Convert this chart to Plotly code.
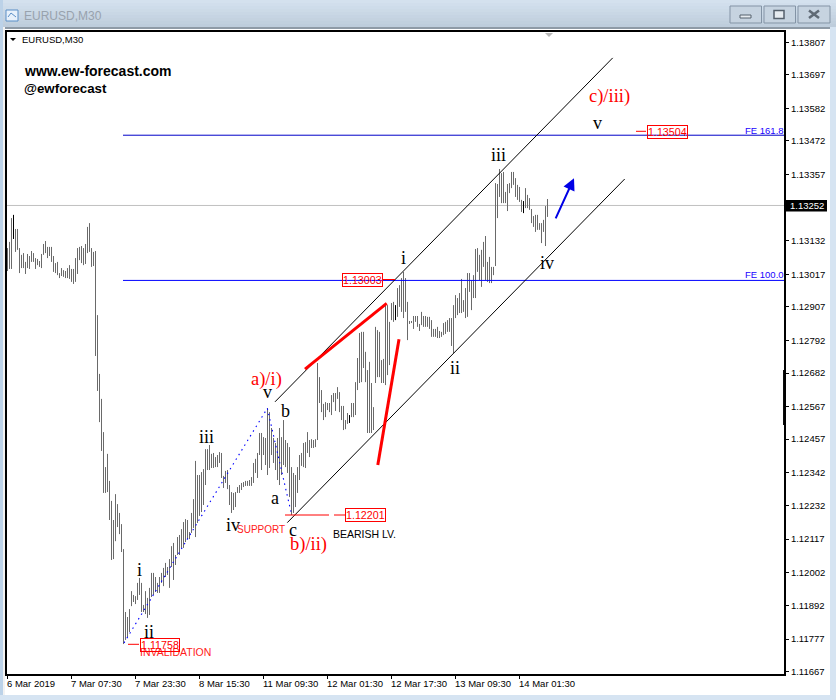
import plotly.graph_objects as go

highs = [
1.13107,1.13128,1.13209,1.13220,1.13172,1.13172,1.13107,1.13084,1.13090,1.13060,1.13087,1.13080,1.13097,1.13090,1.13073,1.13070,1.13063,1.13087,1.13121,1.13131,
1.13111,1.13111,1.13111,1.13080,1.13056,1.13060,1.13022,1.13039,1.13032,1.13029,1.13039,1.13049,1.13036,1.13036,1.13073,1.13107,1.13111,1.13114,1.13107,1.13121,
1.13179,1.13192,1.13107,1.13094,1.13097,1.12879,1.12679,1.12594,1.12481,1.12362,1.12407,1.12315,1.12247,1.12182,1.12270,1.12236,1.12206,1.12168,1.12083,1.11869,
1.11852,1.11879,1.11940,1.11927,1.11923,1.11968,1.11985,1.11968,1.11893,1.11940,1.11917,1.11951,1.12002,1.12002,1.11988,1.11968,1.11988,1.12002,1.12019,1.12036,
1.12022,1.12049,1.12093,1.12104,1.12063,1.12124,1.12131,1.12151,1.12175,1.12185,1.12182,1.12141,1.12206,1.12253,1.12383,1.12335,1.12335,1.12345,1.12355,1.12423,
1.12423,1.12437,1.12407,1.12410,1.12396,1.12403,1.12413,1.12410,1.12332,1.12349,1.12352,1.12301,1.12277,1.12274,1.12277,1.12294,1.12301,1.12308,1.12311,1.12315,
1.12315,1.12318,1.12328,1.12376,1.12390,1.12410,1.12478,1.12478,1.12464,1.12461,1.12563,1.12549,1.12495,1.12461,1.12444,1.12461,1.12495,1.12464,1.12522,1.12454,
1.12444,1.12430,1.12362,1.12342,1.12335,1.12362,1.12403,1.12410,1.12444,1.12447,1.12481,1.12454,1.12457,1.12454,1.12457,1.12716,1.12668,1.12624,1.12577,1.12583,
1.12580,1.12580,1.12607,1.12614,1.12614,1.12634,1.12617,1.12570,1.12570,1.12522,1.12546,1.12539,1.12580,1.12580,1.12651,1.12733,1.12818,1.12822,1.12822,1.12754,
1.12692,1.12720,1.12648,1.12566,1.12839,1.12828,1.12822,1.12726,1.12730,1.12920,1.12913,1.12856,1.12920,1.12924,1.12913,1.12971,1.12981,1.13005,1.13026,1.13005,
1.12924,1.12859,1.12859,1.12876,1.12876,1.12876,1.12849,1.12890,1.12876,1.12876,1.12873,1.12873,1.12862,1.12832,1.12832,1.12839,1.12825,1.12822,1.12852,1.12856,
1.12862,1.12869,1.12869,1.12913,1.12947,1.12937,1.12954,1.13002,1.12930,1.12971,1.13022,1.13022,1.12998,1.13015,1.13104,1.13107,1.13084,1.13101,1.13128,1.13148,
1.13060,1.13077,1.13043,1.13043,1.13328,1.13325,1.13376,1.13362,1.13366,1.13298,1.13325,1.13328,1.13366,1.13366,1.13345,1.13322,1.13315,1.13271,1.13267,1.13311,
1.13288,1.13277,1.13240,1.13216,1.13220,1.13220,1.13192,1.13192,1.13203,1.13250,1.13274,
]
lows = [
1.13029,1.13036,1.13036,1.13138,1.13094,1.13101,1.13022,1.13039,1.13039,1.13019,1.13039,1.13036,1.13060,1.13060,1.13036,1.13049,1.13043,1.13039,1.13084,1.13090,
1.13073,1.13080,1.13060,1.13026,1.13022,1.13015,1.13005,1.13012,1.13009,1.13005,1.13005,1.13002,1.12992,1.12985,1.12992,1.13019,1.13066,1.13056,1.13049,1.13053,
1.13090,1.13094,1.13043,1.13046,1.12740,1.12621,1.12515,1.12417,1.12274,1.12274,1.12277,1.12182,1.12046,1.12049,1.12110,1.12158,1.12134,1.12073,1.11760,1.11774,
1.11784,1.11801,1.11889,1.11903,1.11896,1.11910,1.11927,1.11869,1.11869,1.11862,1.11849,1.11859,1.11920,1.11927,1.11937,1.11934,1.11934,1.11968,1.11957,1.11988,
1.11995,1.11951,1.12022,1.11978,1.12029,1.12063,1.12063,1.12087,1.12087,1.12107,1.12117,1.12117,1.12138,1.12155,1.12124,1.12172,1.12196,1.12209,1.12233,1.12301,
1.12352,1.12352,1.12359,1.12359,1.12362,1.12362,1.12376,1.12325,1.12291,1.12308,1.12287,1.12233,1.12206,1.12216,1.12226,1.12274,1.12274,1.12284,1.12294,1.12298,
1.12298,1.12298,1.12298,1.12308,1.12342,1.12325,1.12403,1.12352,1.12403,1.12369,1.12335,1.12359,1.12403,1.12376,1.12352,1.12318,1.12301,1.12335,1.12369,1.12362,
1.12342,1.12260,1.12199,1.12206,1.12226,1.12274,1.12318,1.12366,1.12362,1.12359,1.12410,1.12396,1.12427,1.12427,1.12430,1.12454,1.12580,1.12549,1.12522,1.12532,
1.12556,1.12549,1.12539,1.12583,1.12553,1.12594,1.12549,1.12522,1.12488,1.12491,1.12509,1.12512,1.12532,1.12532,1.12539,1.12624,1.12648,1.12651,1.12699,1.12651,
1.12478,1.12478,1.12478,1.12488,1.12648,1.12668,1.12668,1.12648,1.12648,1.12641,1.12675,1.12709,1.12862,1.12856,1.12862,1.12873,1.12907,1.12890,1.12869,1.12890,
1.12794,1.12849,1.12852,1.12832,1.12856,1.12839,1.12825,1.12845,1.12839,1.12839,1.12839,1.12832,1.12805,1.12805,1.12805,1.12801,1.12801,1.12805,1.12811,1.12815,
1.12822,1.12822,1.12774,1.12750,1.12869,1.12879,1.12886,1.12886,1.12890,1.12869,1.12873,1.12958,1.12896,1.12937,1.12937,1.13026,1.12998,1.12975,1.13043,1.12998,
1.12992,1.12988,1.12988,1.13015,1.13046,1.13209,1.13281,1.13260,1.13260,1.13260,1.13233,1.13294,1.13311,1.13322,1.13281,1.13271,1.13264,1.13230,1.13226,1.13243,
1.13243,1.13237,1.13192,1.13179,1.13162,1.13169,1.13169,1.13124,1.13162,1.13114,1.13213,
]
black_bars = [3, 171, 194, 258]

price_ticks = [1.13807,1.13697,1.13582,1.13472,1.13357,1.13132,1.13017,1.12907,1.12792,1.12682,
               1.12567,1.12457,1.12342,1.12232,1.12117,1.12002,1.11892,1.11777,1.11667]
time_tick_bars = [0,32,64,96,128,160,192,224,256]
time_tick_labels = ["6 Mar 2019","7 Mar 07:30","7 Mar 23:30","8 Mar 15:30","11 Mar 09:30",
                    "12 Mar 01:30","12 Mar 17:30","13 Mar 09:30","14 Mar 01:30"]
last_price = 1.13252
fe100 = 1.12997
fe1618 = 1.13491
fe_start_bar = 57.75
axis_end_bar = 388.25
channel_upper_x = [133.75, 302.6]
channel_upper_y = [1.12584, 1.13754]
channel_lower_x = [139.9, 308.6]
channel_lower_y = [1.12173, 1.13342]
wave_x = [58.25, 129.9, 142.1]
wave_y = [1.11764, 1.12562, 1.12199]
red_top_x = [148.75, 189.6]
red_top_y = [1.12695, 1.12919]
red_bottom_x = [185.15, 195.75]
red_bottom_y = [1.12369, 1.12797]
arrow_x = [273.75, 283.25]
arrow_y = [1.13203, 1.13345]

L, R, T, B = 7, 784, 32, 674
X = lambda px: (px - L) / (R - L)
Y = lambda py: (B - py) / (B - T)
SANS = "Liberation Sans"
SERIF = "Liberation Serif"

def bars_xy(indices):
    xs, ys = [], []
    for i in indices:
        xs += [i, i, None]
        ys += [highs[i], lows[i], None]
    return xs, ys

fig = go.Figure()
def line(x, y, color, width, dash="solid"):
    fig.add_trace(go.Scatter(x=x, y=y, mode="lines", line=dict(color=color, width=width, dash=dash), hoverinfo="skip"))

line([-0.25, axis_end_bar], [last_price, last_price], "#c0c0c0", 1)
grey_idx = [i for i in range(len(highs)) if i not in black_bars]
gx, gy = bars_xy(grey_idx)
line(gx, gy, "#6a6a6a", 1)
bx, by = bars_xy(black_bars)
line(bx, by, "#000000", 1)
line([fe_start_bar, axis_end_bar], [fe1618, fe1618], "#0000c8", 1)
line([fe_start_bar, axis_end_bar], [fe100, fe100], "#0000ff", 1)
line(channel_upper_x, channel_upper_y, "#000000", 1)
line(channel_lower_x, channel_lower_y, "#000000", 1)
line(wave_x, wave_y, "#0000ff", 1.1, "1.5px,4px")
line(red_top_x, red_top_y, "#ff0000", 3)
line(red_bottom_x, red_bottom_y, "#ff0000", 3)

shapes = []
def rect(x0, y0, x1, y1, fill=None, col=None, w=0, layer="below"):
    shapes.append(dict(type="rect", xref="paper", yref="paper", x0=X(x0), x1=X(x1), y0=Y(y0), y1=Y(y1),
                       fillcolor=fill, line=dict(color=col, width=w), layer=layer))
def seg(x0, y0, x1, y1, col, w=1, layer="above"):
    shapes.append(dict(type="line", xref="paper", yref="paper", x0=X(x0), x1=X(x1), y0=Y(y0), y1=Y(y1),
                       line=dict(color=col, width=w), layer=layer))

# window chrome
bands = 9
top, bot = (212, 225, 238), (190, 205, 220)
for k in range(bands):
    t = k / (bands - 1)
    c = tuple(round(top[j] + (bot[j] - top[j]) * t) for j in range(3))
    rect(0, k * 3, 836, (k + 1) * 3, fill="rgb(%d,%d,%d)" % c)
rect(0, 27, 836, 29, fill="#8e9aa6")
rect(0, 0, 3, 700, fill="#bcd2e8")
rect(3, 27, 5, 700, fill="#f2f2f2")
rect(830, 27, 836, 700, fill="#d6e4f2")
rect(0, 695, 836, 700, fill="#d6e4f2")
# title icon
rect(6, 10, 18, 21, fill="#e8f1fb", col="#5b8fc7", w=1)
seg(8, 17, 11, 13, "#5b8fc7", layer="below")
seg(11, 13, 16, 17, "#5b8fc7", layer="below")
# window buttons
for a, b in ((730, 761.5), (764, 795.5), (798, 830)):
    rect(a, 6, b, 23, fill="#c6d3e0", col="#8393a5", w=1)
rect(740, 15, 751, 18, fill="#e6ebf0", col="#55606c", w=1)
rect(774, 10.5, 784, 18.5, fill="#e6ebf0", col="#55606c", w=1.5)
seg(809, 10.5, 819, 18, "#5f6a75", 2.5)
seg(819, 10.5, 809, 18, "#5f6a75", 2.5)
# small marks on chart
shapes.append(dict(type="path", xref="paper", yref="paper", layer="above",
                   path="M %f %f L %f %f L %f %f Z" % (X(10), Y(38), X(16), Y(38), X(13), Y(41)),
                   fillcolor="#000000", line=dict(width=0)))
shapes.append(dict(type="path", xref="paper", yref="paper", layer="above",
                   path="M %f %f L %f %f L %f %f Z" % (X(545), Y(33), X(553), Y(33), X(549), Y(37)),
                   fillcolor="#b8b8b8", line=dict(width=0)))
seg(784.3, 370, 784.3, 425, "#000000", 2.5)
# leaders of the price tags
seg(285, 515, 329, 515, "#ff0000", 1)
seg(334, 515, 345, 515, "#ff0000", 1)
seg(128, 644.3, 139, 644.3, "#ff0000", 1)
seg(383, 279.5, 395, 279.5, "#ff0000", 1)
seg(636, 131.3, 646, 131.3, "#ff0000", 1)
# last price tag
rect(786, 200, 827, 211.5, fill="#000000", layer="above")

ann = []
def text(px, py, s, size, color="#000000", family=SERIF, anchor="center", bold=False, **kw):
    ann.append(dict(xref="paper", yref="paper", x=X(px), y=Y(py), text=("<b>%s</b>" % s) if bold else s,
                    showarrow=False, xanchor=anchor, yanchor="middle", borderpad=0,
                    font=dict(size=size, color=color, family=family), **kw))

text(23, 15.5, "EURUSD,M30", 12, "#98a2ad", SANS, "left")
text(21, 39.5, "EURUSD,M30", 9.5, "#000000", SANS, "left")
text(23, 71, "www.ew-forecast.com", 14, "#000000", SANS, "left", True)
text(23, 88, "@ewforecast", 13.3, "#000000", SANS, "left", True)

wave_labels = [
    (139, 570, "i"), (149, 632, "ii"), (206, 437, "iii"), (233, 525, "iv"), (267, 392, "v"),
    (285, 411, "b"), (275, 498, "a"), (293, 530, "c"), (403, 258, "i"), (455, 368, "ii"),
    (499, 155, "iii"), (547, 263, "iv"), (597, 123, "v"),
]
for px, py, s in wave_labels:
    text(px, py, s, 18)
text(266, 379, "a)/i)", 18.5, "#ff0000")
text(308, 544, "b)/ii)", 18.5, "#ff0000")
text(609, 97, "c)/iii)", 18.5, "#ff0000")
text(236, 529, "SUPPORT", 10, "#ff2020", SANS, "left")
text(139, 652, "INVALIDATION", 10.5, "#ff2020", SANS, "left")
text(332, 534, "BEARISH LV.", 10.5, "#000000", SANS, "left")
text(785, 130, "FE 161.8", 9.5, "#2000ff", SANS, "right")
text(785, 274, "FE 100.0", 9.5, "#2000ff", SANS, "right")
text(806.5, 205.8, "1.13252", 9.5, "#ffffff", SANS)
for px, py, s in [(365.5, 515, "1.12201"), (159.5, 645, "1.11758"), (362, 280, "1.13003"), (667, 131.5, "1.13504")]:
    text(px, py, s, 10.7, "#ff0000", SANS, bordercolor="#ff0000", borderwidth=1, bgcolor="rgba(255,255,255,0)")

ann.append(dict(x=arrow_x[1], y=arrow_y[1], ax=arrow_x[0], ay=arrow_y[0], xref="x", yref="y", axref="x", ayref="y",
                text="", showarrow=True, arrowhead=2, arrowsize=1.2, arrowwidth=2, arrowcolor="#0000e6"))

fig.update_layout(
    width=836, height=700, autosize=False, showlegend=False,
    paper_bgcolor="#ffffff", plot_bgcolor="#ffffff",
    margin=dict(l=L, r=836 - R, t=T, b=700 - B, pad=0, autoexpand=False),
    font=dict(family=SANS, size=9.5, color="#000000"),
    shapes=shapes, annotations=ann,
    xaxis=dict(range=[-0.25, axis_end_bar], tickmode="array", tickvals=time_tick_bars, ticktext=time_tick_labels,
               showgrid=False, zeroline=False, showline=True, mirror=True, linecolor="#000000", linewidth=2,
               ticks="outside", ticklen=3, tickcolor="#000000", ticklabelposition="outside right", tickangle=0,
               ticklabelshift=-2, automargin=False, tickfont=dict(family=SANS, size=9.5)),
    yaxis=dict(range=[1.116581, 1.138421], side="right", tickmode="array", tickvals=price_ticks,
               ticktext=["%.5f" % v for v in price_ticks], automargin=False,
               showgrid=False, zeroline=False, showline=True, mirror=True, linecolor="#000000", linewidth=2,
               ticks="outside", ticklen=3, tickcolor="#000000", tickfont=dict(family=SANS, size=9.5)),
)

fig.write_html("out.html", config=dict(displayModeBar=False),
               post_script="document.body.style.margin='0';document.body.style.overflow='hidden';")
